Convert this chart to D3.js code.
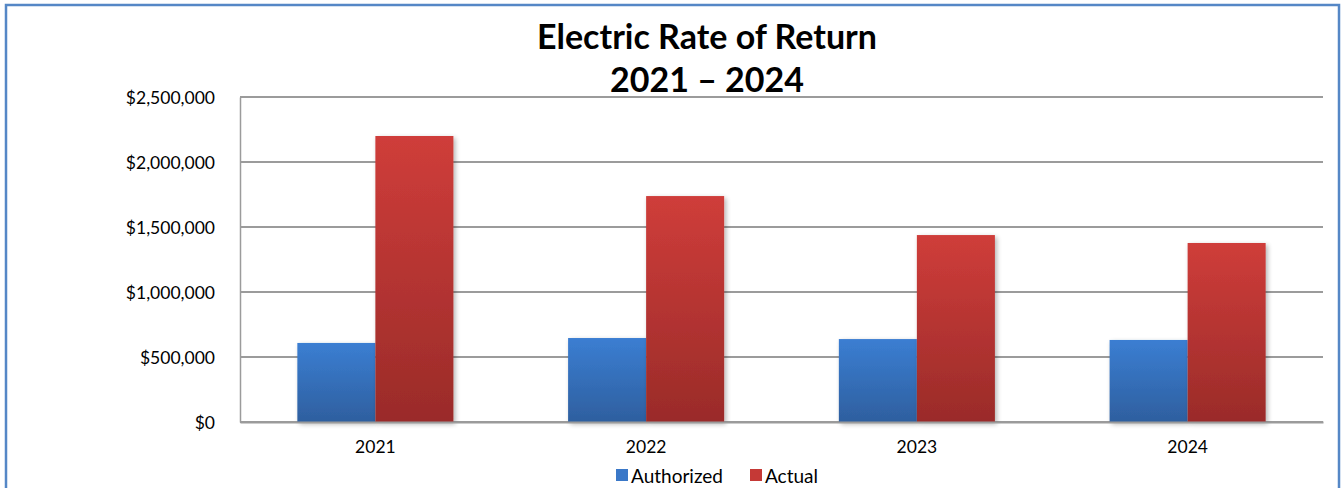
<!DOCTYPE html>
<html>
<head>
<meta charset="utf-8">
<script src="https://cdn.jsdelivr.net/npm/d3@7"></script>
<style>
  html, body { margin: 0; padding: 0; background: #fff; }
  svg { display: block; }
  text { font-family: Lato, "Open Sans", "Liberation Sans", sans-serif; fill: #000; }
</style>
</head>
<body>
<svg id="chart" width="1341" height="488"></svg>
<script>
// Data
const years = ["2021", "2022", "2023", "2024"];
const authorized = [608000, 646000, 638000, 631000];
const actual = [2200000, 1738000, 1438000, 1377000];
const seriesNames = ["Authorized", "Actual"];
const yTicks = [0, 500000, 1000000, 1500000, 2000000, 2500000];

const svg = d3.select("#chart");
const plot = { left: 240, right: 1323, top: 97, bottom: 422 };

// Gradients for the bars
const defs = svg.append("defs");
const grad = (id, top, bottom) => {
  const g = defs.append("linearGradient").attr("id", id)
    .attr("x1", 0).attr("y1", 0).attr("x2", 0).attr("y2", 1);
  g.append("stop").attr("offset", "0%").attr("stop-color", top);
  g.append("stop").attr("offset", "100%").attr("stop-color", bottom);
};
grad("gBlue", "#3b7ed2", "#2e5f9f");
grad("gRed", "#cf3d3a", "#9a2b29");
const fills = ["url(#gBlue)", "url(#gRed)"];
const legendFills = ["#3a78c8", "#c53936"];

const shadow = defs.append("filter").attr("id", "shadow")
  .attr("x", "-10%").attr("y", "-10%").attr("width", "130%").attr("height", "130%");
shadow.append("feGaussianBlur").attr("in", "SourceAlpha").attr("stdDeviation", 2.5);
shadow.append("feOffset").attr("dx", 2).attr("dy", 2).attr("result", "b");
shadow.append("feComponentTransfer").append("feFuncA").attr("type", "linear").attr("slope", 0.3);
const merge = shadow.append("feMerge");
merge.append("feMergeNode");
merge.append("feMergeNode").attr("in", "SourceGraphic");

// Outer frame
svg.append("rect")
  .attr("x", 6).attr("y", 5).attr("width", 1333).attr("height", 500)
  .attr("fill", "#fff").attr("stroke", "#5587c6").attr("stroke-width", 2.5);

// Scales
const x = d3.scaleBand().domain(years).range([plot.left, plot.right]).paddingInner(0).paddingOuter(0);
const inner = d3.scaleBand().domain(seriesNames).range([0, x.bandwidth()]).paddingOuter(0.735).paddingInner(0);
const y = d3.scaleLinear().domain([0, 2500000]).range([plot.bottom, plot.top]);

// Gridlines
svg.append("g").selectAll("line").data(yTicks).join("line")
  .attr("x1", plot.left).attr("x2", plot.right)
  .attr("y1", d => y(d)).attr("y2", d => y(d))
  .attr("stroke", "#9b9b9b").attr("stroke-width", 2);

// Y axis
const yAxis = d3.axisLeft(y).tickValues(yTicks).tickSize(0).tickPadding(25)
  .tickFormat(d => "$" + d3.format(",")(d));
const ya = svg.append("g").attr("transform", `translate(${plot.left},0)`).call(yAxis);
ya.select(".domain").attr("stroke", "#9b9b9b").attr("stroke-width", 1.5);
ya.selectAll("text").attr("font-size", 17.5).attr("dy", "0.35em")
  .style("font-family", "Lato, 'Open Sans', sans-serif");

// Bars
const rows = years.map((yr, i) => ({ year: yr, values: [authorized[i], actual[i]] }));
const groups = svg.append("g").selectAll("g").data(rows).join("g")
  .attr("transform", d => `translate(${x(d.year)},0)`);
groups.selectAll("rect").data(d => d.values.map((v, j) => ({ v, j })))
  .join("rect")
  .attr("x", d => inner(seriesNames[d.j]))
  .attr("width", inner.bandwidth())
  .attr("y", d => y(d.v))
  .attr("height", d => y(0) - y(d.v))
  .attr("fill", d => fills[d.j])
  .attr("filter", "url(#shadow)");

// X axis
const xAxis = d3.axisBottom(x).tickSize(0).tickPadding(19);
const xa = svg.append("g").attr("transform", `translate(0,${plot.bottom})`).call(xAxis);
xa.select(".domain").attr("stroke", "#9b9b9b").attr("stroke-width", 2);
xa.selectAll("text").attr("font-size", 17.5)
  .style("font-family", "Lato, 'Open Sans', sans-serif");

// Title
const title = svg.append("text").attr("text-anchor", "middle")
  .attr("font-size", 34).attr("font-weight", "bold");
title.append("tspan").attr("x", 707).attr("y", 49).text("Electric Rate of Return");
title.append("tspan").attr("x", 707).attr("y", 92).text("2021 \u2013 2024");

// Legend
const legendItems = [
  { name: "Authorized", x: 616 },
  { name: "Actual", x: 750 }
];
const lg = svg.append("g").selectAll("g").data(legendItems).join("g")
  .attr("transform", d => `translate(${d.x},469)`);
lg.append("rect").attr("width", 12).attr("height", 12)
  .attr("fill", (d, i) => legendFills[i]);
lg.append("text").attr("x", 15).attr("y", 13.5).attr("font-size", 19)
  .text(d => d.name);
</script>
</body>
</html>
